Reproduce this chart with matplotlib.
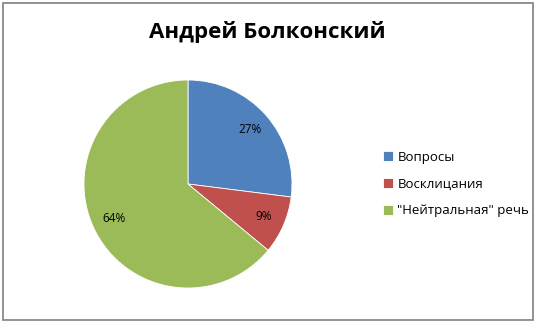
import matplotlib.pyplot as plt
from matplotlib.patches import Rectangle

# ── Data ──────────────────────────────────────────────
labels = ['Вопросы', 'Восклицания', '"Нейтральная" речь']
shares = [27, 9, 64]
colors = ['#4F81BD', '#C0504D', '#9BBB59']

plt.rcParams['font.family'] = ['Open Sans', 'DejaVu Sans']

fig = plt.figure(figsize=(5.39, 3.26), dpi=100)

# outer frame like an Excel chart area
fig.patches.append(Rectangle((3/539, 1 - 320/326), 530/539, 317/326,
                             transform=fig.transFigure, fill=False,
                             edgecolor='#808080', lw=1.2))

fig.text(267/539, 1 - 32/326, 'Андрей Болконский', ha='center', va='center',
         fontsize=16, fontweight='bold')

# pie: centre (188,184) px, radius ~104 px
cx, cy, r = 188, 184, 104
ax = fig.add_axes([(cx - r)/539, 1 - (cy + r)/326, 2*r/539, 2*r/326])
wedges, _, autotexts = ax.pie(shares, colors=colors, startangle=90, counterclock=False,
                              autopct='%d%%', pctdistance=0.79,
                              wedgeprops=dict(edgecolor='white', linewidth=0.6))
for t in autotexts:
    t.set_fontsize(8.5)
ax.set_xlim(-1, 1)
ax.set_ylim(-1, 1)
ax.set_aspect('auto')

fig.legend(wedges, labels, loc='center left', bbox_to_anchor=(371/539, 1 - 184/326),
           frameon=False, fontsize=9.5, handlelength=0.75, handleheight=0.75,
           handletextpad=0.35, labelspacing=1.05)

plt.savefig('out.png', dpi=100)
plt.close()
